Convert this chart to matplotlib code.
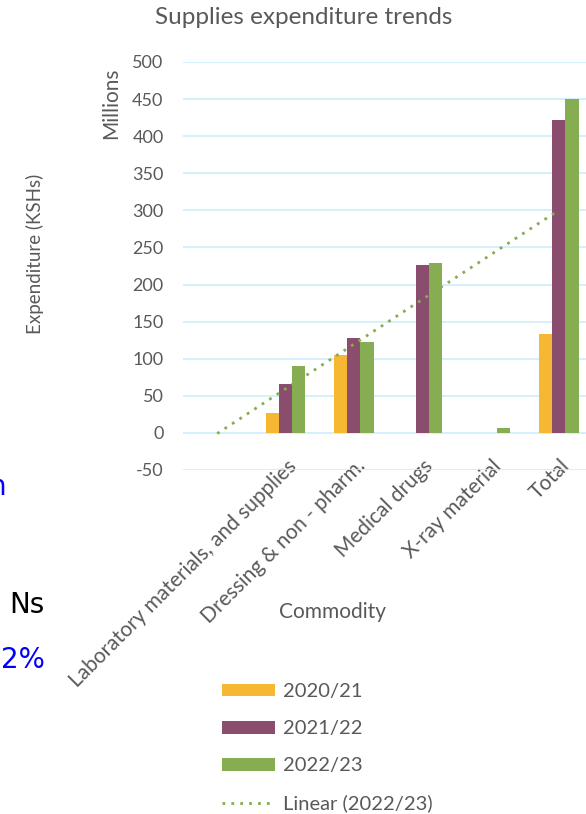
import matplotlib
matplotlib.use("Agg")
import matplotlib.pyplot as plt
import matplotlib.transforms as mtransforms
import numpy as np
from matplotlib.lines import Line2D
from matplotlib.patches import Patch

plt.rcParams["font.family"] = ["Lato", "DejaVu Sans"]

categories = [
    "",
    "Laboratory materials, and supplies",
    "Dressing & non - pharm.",
    "Medical drugs",
    "X-ray material",
    "Total",
]
years = ["2020/21", "2021/22", "2022/23"]
exp_2020 = [0, 27, 105, 0, 0, 133]
exp_2021 = [0, 66, 128, 227, 0, 422]
exp_2022 = [0, 90, 122, 229, 7, 450]
y_ticks = list(range(-50, 501, 50))

colors = ["#F6B833", "#8A4D6E", "#86AD51"]
grid_color = "#CDEEF9"
text_color = "#595959"

W, H = 586, 814
fig = plt.figure(figsize=(W / 100, H / 100), dpi=100)
ax = fig.add_axes([183 / W, 1 - 470 / H, 410 / W, 408 / H])

x = np.arange(len(categories))
w = 0.195
for k, (vals, c) in enumerate(zip([exp_2020, exp_2021, exp_2022], colors)):
    ax.bar(x + (k - 1) * w, vals, w, color=c, zorder=3)

# linear trendline on 2022/23 like Excel does
slope, intercept = np.polyfit(x + 1, exp_2022, 1)
ax.plot(x, slope * (x + 1) + intercept, linestyle=(0, (1, 2.2)), linewidth=2,
        color=colors[2], zorder=4)

ax.set_xlim(-0.5, len(categories) - 0.5)
ax.set_ylim(-50, 500)
ax.set_yticks(y_ticks)
ax.set_yticklabels([str(v) for v in y_ticks])
ax.set_xticks(x)
ax.set_xticklabels(categories, rotation=45, ha="right", va="center",
                   rotation_mode="anchor")
ax.tick_params(axis="both", length=0, colors=text_color)
ax.tick_params(axis="x", pad=0, labelsize=15)
ax.tick_params(axis="y", pad=14, labelsize=13)
shift = mtransforms.ScaledTranslation(0.08, 0.07, fig.dpi_scale_trans)
for lbl in ax.get_xticklabels():
    lbl.set_transform(lbl.get_transform() + shift)
ax.grid(axis="y", color=grid_color, linewidth=1.2, zorder=0)
for s in ax.spines.values():
    s.set_visible(False)

fig.text(304 / W, 1 - 18 / H, "Supplies expenditure trends", ha="center",
         va="center", fontsize=17.5, color=text_color)
fig.text(111 / W, 1 - 103 / H, "Millions", rotation=90, ha="center",
         va="center", fontsize=15, color=text_color)
fig.text(35 / W, 1 - 254 / H, "Expenditure (KSHs)", rotation=90, ha="center",
         va="center", fontsize=13.5, color=text_color)
fig.text(333 / W, 1 - 612 / H, "Commodity", ha="center", va="center",
         fontsize=15, color=text_color)

handles = [Patch(facecolor=c) for c in colors]
handles.append(Line2D([0], [0], linestyle=(0, (1, 2.2)), linewidth=2,
                      color=colors[2]))
leg = fig.legend(handles, years + ["Linear (2022/23)"], loc="upper left",
                 bbox_to_anchor=(204 / W, 1 - 665 / H), frameon=False,
                 fontsize=14.5, handlelength=2.64, handleheight=0.6,
                 labelspacing=1.0, handletextpad=0.4)
for t in leg.get_texts():
    t.set_color(text_color)

# pieces of slide text cut by the crop on the left
fig.text(6 / W, 1 - 487 / H, "n", ha="right", va="center", fontsize=20,
         color="#0000FF", family="DejaVu Sans")
fig.text(45 / W, 1 - 605 / H, "Ns", ha="right", va="center", fontsize=20,
         color="black", family="DejaVu Sans")
fig.text(45 / W, 1 - 660 / H, "2%", ha="right", va="center", fontsize=20,
         color="#0000FF", family="DejaVu Sans")

fig.savefig("out.png", dpi=100)
